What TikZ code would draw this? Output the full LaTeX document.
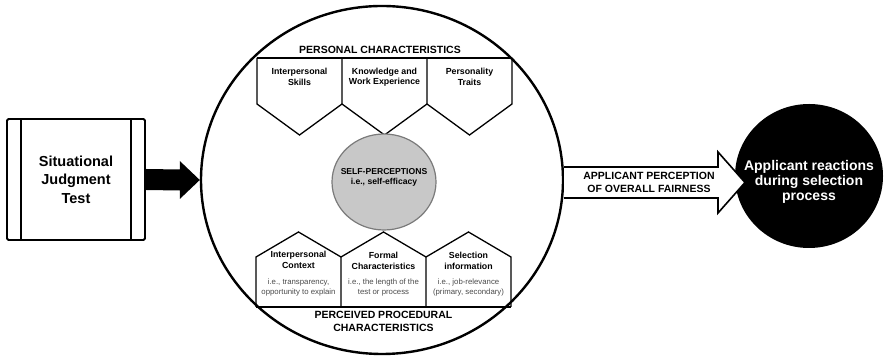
\documentclass[tikz,border=0pt]{standalone}
\usepackage{fontspec}
\setmainfont{Liberation Sans}
\usepackage{tikz}
\usetikzlibrary{shapes,arrows.meta,calc,positioning}
\definecolor{selfgray}{HTML}{C8C8C8}
\definecolor{selfedge}{HTML}{7A7A7A}
\definecolor{notegray}{HTML}{4A4A4A}
\tikzset{
    x=1pt, y=1pt, semithick,
    ring/.style ={ellipse, draw, line width=2.4pt, minimum width=362pt, minimum height=348pt, inner sep=0pt},
    testbox/.style ={rectangle, draw, line width=1.8pt, rounded corners=1.5pt, minimum width=138pt, minimum height=121pt,
        align=center, font=\bfseries\fontsize{14.5}{18.5}\selectfont},
    selfnode/.style ={ellipse, draw=selfedge, fill=selfgray, line width=1.2pt, minimum width=104pt, minimum height=96pt, inner sep=0pt},
    outcome/.style ={ellipse, fill=black, minimum width=148pt, minimum height=144pt, inner sep=0pt},
    facet/.style = {line width=1.3pt, line join=miter},
    heading/.style = {align=center, font=\bfseries\fontsize{10.5}{13}\selectfont},
    factor/.style = {align=center, font=\bfseries\fontsize{8.8}{10.5}\selectfont},
    note/.style = {align=center, text=notegray, font=\fontsize{7.8}{10}\selectfont},
    inarrow/.style = {fill=black},
    fairarrow/.style = {draw, fill=white, line width=1.6pt, line join=miter}
}

\begin{document}
\begin{tikzpicture}
        \useasboundingbox (0,0) rectangle (887,358);

        \node[ring] (person) at (382,178) {};
        \node[testbox] (sjt) at (76,178.5) {Situational\\Judgment\\Test};
        \draw[line width=1.8pt] ([xshift=15pt]sjt.north west) -- ([xshift=15pt]sjt.south west);
        \draw[line width=1.8pt] ([xshift=-15pt]sjt.north east) -- ([xshift=-15pt]sjt.south east);

        % arrow into the circle
        \path[inarrow] ($(sjt.east)+(0,10.5)$) -- ($(person.west)+(-20,10.5)$) -- ($(person.west)+(-20,19)$)
            -- (person.west) -- ($(person.west)+(-20,-19)$) -- ($(person.west)+(-20,-10.5)$)
            -- ($(sjt.east)+(0,-10.5)$) -- cycle;

        % personal characteristics
        \node[heading] (personal) at (380,308) {PERSONAL CHARACTERISTICS};
        \draw[facet] (257,300) -- (512,300);
        \draw[facet] (257,300) -- (257,254) -- (299.5,223) -- (342,254) -- (342,300);
        \draw[facet] (342,254) -- (384.5,223) -- (427,254) -- (427,300);
        \draw[facet] (427,254) -- (469.5,223) -- (512,254) -- (512,300);
        \node[factor] (skills) at (299.5,281) {Interpersonal\\Skills};
        \node[factor] (knowledge) at (384.5,281) {Knowledge and\\Work Experience};
        \node[factor] (traits) at (469.5,281) {Personality\\Traits};

        % self-perceptions
        \node[selfnode] (self) at (384,176) {};
        \node[factor, font=\bfseries\fontsize{8.6}{10}\selectfont] (selftext) at ([yshift=5pt]self.center) {SELF-PERCEPTIONS\\i.e., self-efficacy};

        % procedural characteristics
        \draw[facet] (256,51) -- (511,51);
        \draw[facet] (256,51) -- (256,101) -- (298.5,126) -- (341,101) -- (341,51);
        \draw[facet] (341,101) -- (383.5,126) -- (426,101) -- (426,51);
        \draw[facet] (426,101) -- (468.5,126) -- (511,101) -- (511,51);
        \node[factor] (context) at (298.5,98) {Interpersonal\\Context};
        \node[factor] (formal) at (383.5,97) {Formal\\Characteristics};
        \node[factor] (selection) at (468.5,97) {Selection\\information};
        \node[note] (contextnote) at (298.5,71) {i.e., transparency,\\opportunity to explain};
        \node[note] (formalnote) at (383.5,71) {i.e., the length of the\\test or process};
        \node[note] (selectionnote) at (468.5,71) {i.e., job-relevance\\(primary, secondary)};
        \node[heading] (procedural) at (383.5,36.5) {PERCEIVED PROCEDURAL\\CHARACTERISTICS};

        % outcome
        \node[outcome] (reactions) at (809,182) {};
        \node[align=center, text=white, font=\bfseries\fontsize{14}{15}\selectfont] (reactionstext)
            at ([yshift=-6pt]reactions.center) {Applicant reactions\\during selection\\process};

        % fairness arrow
        \coordinate (fairtip) at (745,175.5);
        \path[fairarrow] ($(person.east)+(0,13)$) -- ($(fairtip)+(-27,15.5)$) -- ($(fairtip)+(-27,30.5)$)
            -- (fairtip) -- ($(fairtip)+(-27,-30.5)$) -- ($(fairtip)+(-27,-15.5)$) -- ($(person.east)+(0,-18)$);
        \node[heading] (fairness) at (649,176) {APPLICANT PERCEPTION\\OF OVERALL FAIRNESS};
    \end{tikzpicture}
\end{document}
